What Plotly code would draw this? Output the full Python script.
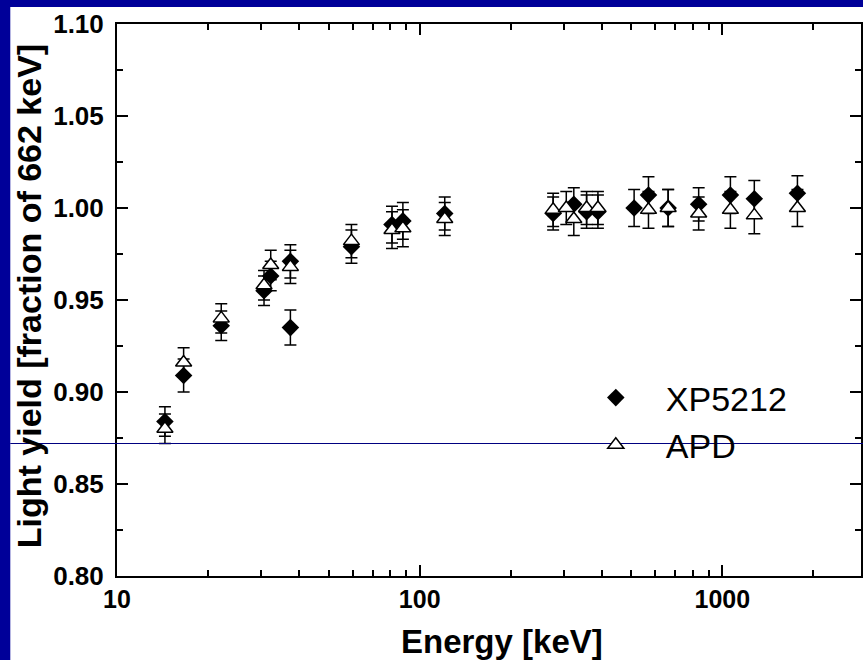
import plotly.graph_objects as go

# ---- data ----
xp_energy = [14.4, 16.6, 22.1, 30.6, 32.2, 37.4, 37.4, 59.5, 81, 88, 121,
             276, 323, 356, 388, 511, 570, 662, 835, 1063, 1275, 1770]
xp_yield = [0.884, 0.909, 0.936, 0.955, 0.963, 0.971, 0.935, 0.979, 0.991, 0.993, 0.997,
            0.997, 1.002, 0.998, 0.998, 1.000, 1.007, 1.000, 1.002, 1.007, 1.005, 1.008]
xp_err = [0.008, 0.009, 0.008, 0.008, 0.008, 0.009, 0.0095, 0.009, 0.010, 0.010, 0.009,
          0.009, 0.009, 0.009, 0.009, 0.010, 0.010, 0.010, 0.009, 0.010, 0.010, 0.0095]

apd_energy = [14.4, 16.6, 22.1, 30.6, 32.2, 37.4, 59.5, 81, 88, 121,
              276, 305, 323, 356, 388, 570, 662, 835, 1063, 1275, 1770]
apd_yield = [0.880, 0.916, 0.940, 0.958, 0.969, 0.968, 0.982, 0.988, 0.989, 0.994,
             0.999, 1.000, 0.994, 1.000, 1.000, 0.999, 1.000, 0.997, 0.999, 0.996, 1.000]
apd_err = [0.008, 0.008, 0.008, 0.008, 0.008, 0.009, 0.009, 0.010, 0.010, 0.009,
           0.009, 0.009, 0.009, 0.009, 0.009, 0.010, 0.010, 0.009, 0.010, 0.010, 0.010]

x_tickvals = [10, 100, 1000]
x_ticktext = ["10", "100", "1000"]
x_minor = [20, 30, 40, 50, 60, 70, 80, 90, 200, 300, 400, 500, 600, 700, 800, 900, 2000, 3000]
y_tickvals = [0.80, 0.85, 0.90, 0.95, 1.00, 1.05, 1.10]
y_ticktext = ["0.80", "0.85", "0.90", "0.95", "1.00", "1.05", "1.10"]

FONT = "Liberation Sans, Arial, sans-serif"
BLUE = "#000099"

W, H = 863, 660
L, R, T, B = 117, 0, 24, 84
pw, ph = W - L - R, H - T - B

def px_x(px):
    return (px - L) / pw

def px_y(py):
    return (H - B - py) / ph

fig = go.Figure()
fig.add_trace(go.Scatter(
    x=xp_energy, y=xp_yield, mode="markers", name="XP5212",
    marker=dict(symbol="diamond", size=13.5, color="black", line=dict(width=0)),
    error_y=dict(type="data", array=xp_err, visible=True, color="black", thickness=1.5, width=6),
))
fig.add_trace(go.Scatter(
    x=apd_energy, y=apd_yield, mode="markers", name="APD",
    marker=dict(symbol="triangle-up", size=14, color="white", line=dict(width=1.5, color="black")),
    error_y=dict(type="data", array=apd_err, visible=True, color="black", thickness=1.5, width=6),
))

axis_common = dict(
    showgrid=False, zeroline=False, showline=True, linecolor="black", linewidth=2,
    ticks="inside", tickcolor="black", tickwidth=2, ticklen=11, mirror="ticks",
)

fig.update_xaxes(
    type="log", range=[1, 1 + pw / 303.5],
    tickmode="array", tickvals=x_tickvals, ticktext=x_ticktext,
    tickfont=dict(family=FONT, size=25, color="black", weight="bold"),
    minor=dict(tickmode="array", tickvals=x_minor, ticks="inside", ticklen=6, tickwidth=2, tickcolor="black"),
    **axis_common,
)
fig.update_yaxes(
    range=[0.80, 1.10],
    tickmode="array", tickvals=y_tickvals, ticktext=y_ticktext,
    tickfont=dict(family=FONT, size=26, color="black", weight="bold"),
    ticklabelstandoff=6,
    minor=dict(dtick=0.025, tick0=0.80, ticks="inside", ticklen=6, tickwidth=2, tickcolor="black"),
    **axis_common,
)

# slide background panel and stray line
fig.add_shape(type="rect", xref="paper", yref="paper",
              x0=px_x(10), x1=px_x(W + 5), y0=px_y(H + 5), y1=px_y(7),
              fillcolor="white", line=dict(width=0), layer="below")
fig.add_shape(type="line", xref="paper", yref="paper",
              x0=px_x(10), x1=px_x(W + 5), y0=px_y(443.5), y1=px_y(443.5),
              line=dict(color="#000080", width=1), layer="above")

fig.add_annotation(text="<b>Energy [keV]</b>", xref="paper", yref="paper",
                   x=px_x(503), y=px_y(641), showarrow=False,
                   font=dict(family=FONT, size=33, color="black"),
                   xanchor="center", yanchor="middle")
fig.add_annotation(text="<b>Light yield [fraction of 662 keV]</b>", xref="paper", yref="paper",
                   x=px_x(29), y=px_y(296), showarrow=False, textangle=-90,
                   font=dict(family=FONT, size=34, color="black"),
                   xanchor="center", yanchor="middle")

fig.update_layout(
    width=W, height=H,
    margin=dict(l=L, r=R, t=T, b=B),
    paper_bgcolor=BLUE, plot_bgcolor="white",
    showlegend=True,
    legend=dict(x=px_x(567), y=px_y(369), xanchor="left", yanchor="top",
                bgcolor="rgba(0,0,0,0)", borderwidth=0, itemwidth=90,
                font=dict(family=FONT, size=34, color="black"),
                tracegroupgap=0),
)

fig.write_html("out.html")
